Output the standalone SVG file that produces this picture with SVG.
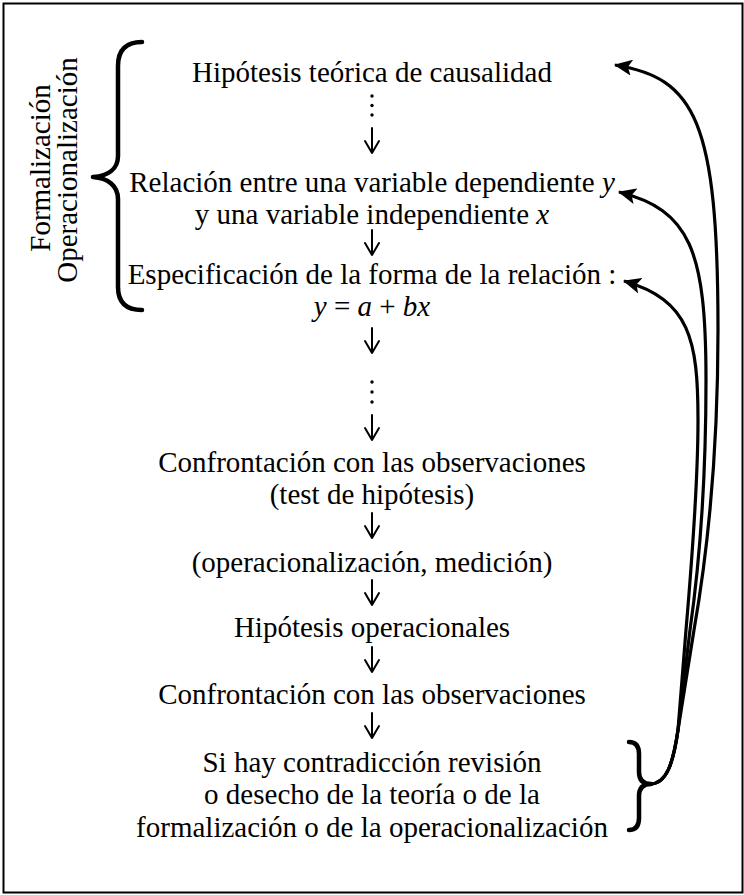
<svg xmlns="http://www.w3.org/2000/svg" width="744" height="895" viewBox="0 0 744 895">
  <style>
    text { font-family: "Liberation Serif", "Times New Roman", serif; font-size: 29px; fill: #000; text-anchor: middle; }
    .it { font-style: italic; }
    .brace { fill: none; stroke: #000; stroke-width: 4.5; stroke-linecap: round; stroke-linejoin: round; }
    .down { fill: none; stroke: #000; stroke-width: 2; stroke-linecap: round; stroke-linejoin: round; }
    .curve { fill: none; stroke: #000; stroke-width: 3.2; }
  </style>
  <defs>
    <marker id="head" markerUnits="userSpaceOnUse" markerWidth="18" markerHeight="16" viewBox="0 0 18 16" refX="17" refY="8" orient="auto">
      <path d="M0,0 L18,8 L0,16 L4,8 Z" fill="#000"/>
    </marker>
    <path id="darr" d="M0,0 V25 M-7,13 L0,25 L7,13"/>
  </defs>
  <rect x="3.5" y="3.5" width="739" height="889" fill="#fff" stroke="#000" stroke-width="2"/>

  <g id="label-left">
    <text transform="translate(50,168) rotate(-90)">Formalización</text>
    <text transform="translate(77,170) rotate(-90)">Operacionalización</text>
  </g>
  <g id="brace-left">
    <path class="brace" d="M142,42 C126,42 118,50 118,66 L118,156 C118,169 108,176 93,177 C108,178 118,186 118,199 L118,287 C118,302 126,310 142,310"/>
  </g>
  <g id="brace-right">
    <path class="brace" d="M629,742 C636,742 639,746 639,754 L639,772 C639,780 643,784 651,784 C643,784 639,788 639,796 L639,818 C639,826 636,830 629,830"/>
  </g>

  <g id="n1"><text x="372" y="82">Hipótesis teórica de causalidad</text></g>
  <g id="dots1" fill="#000">
    <circle cx="372" cy="96" r="1.7"/><circle cx="372" cy="105.5" r="1.7"/><circle cx="372" cy="115" r="1.7"/>
  </g>
  <g id="n2">
    <text x="372" y="192">Relación entre una variable dependiente <tspan class="it">y</tspan></text>
    <text x="372" y="224">y una variable independiente <tspan class="it">x</tspan></text>
  </g>
  <g id="n3">
    <text x="372" y="284">Especificación de la forma de la relación :</text>
    <text x="372" y="316"><tspan class="it">y</tspan> = <tspan class="it">a</tspan> + <tspan class="it">bx</tspan></text>
  </g>
  <g id="dots2" fill="#000">
    <circle cx="372" cy="382" r="1.7"/><circle cx="372" cy="392" r="1.7"/><circle cx="372" cy="402" r="1.7"/>
  </g>
  <g id="n4">
    <text x="372" y="472">Confrontación con las observaciones</text>
    <text x="372" y="504">(test de hipótesis)</text>
  </g>
  <g id="n5"><text x="372" y="572">(operacionalización, medición)</text></g>
  <g id="n6"><text x="372" y="637">Hipótesis operacionales</text></g>
  <g id="n7"><text x="372" y="704">Confrontación con las observaciones</text></g>
  <g id="n8">
    <text x="372" y="772">Si hay contradicción revisión</text>
    <text x="372" y="804">o desecho de la teoría o de la</text>
    <text x="372" y="837">formalización o de la operacionalización</text>
  </g>

  <g id="connectors">
    <g class="down">
      <use href="#darr" x="372" y="128"/>
      <use href="#darr" x="372" y="230"/>
      <use href="#darr" x="372" y="328"/>
      <use href="#darr" x="372" y="415"/>
      <use href="#darr" x="372" y="513"/>
      <use href="#darr" x="372" y="580"/>
      <use href="#darr" x="372" y="647"/>
      <use href="#darr" x="372" y="713"/>
    </g>
    <path class="curve" marker-end="url(#head)" d="M650,784 C666,784 673,765 678,730 L694,630 C708,550 718,450 718,330 C718,120 695,78 615,65"/>
    <path class="curve" marker-end="url(#head)" d="M650,784 C666,784 673,765 678,730 L690,630 C700,560 706,470 706,380 C706,250 690,210 619,192"/>
    <path class="curve" marker-end="url(#head)" d="M650,784 C666,784 673,765 678,730 L686,630 C692,560 698,480 698,420 C698,340 690,300 624,281"/>
  </g>
</svg>
